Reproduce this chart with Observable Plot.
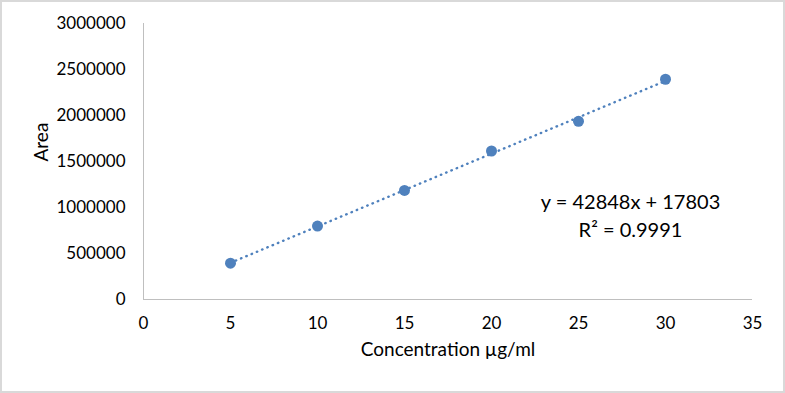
<!DOCTYPE html>
<html><head><meta charset="utf-8">
<script src="https://cdn.jsdelivr.net/npm/d3@7"></script>
<script src="https://cdn.jsdelivr.net/npm/@observablehq/plot@0.6"></script>
<style>
body{margin:0;background:#fff}
#chart svg{display:block;outline:2px solid #d9d9d9;outline-offset:-2px;background:#fff}
</style>
</head><body><div id="chart"></div>
<script>
const concentration = [5, 10, 15, 20, 25, 30];
const area = [395000, 798000, 1186000, 1614000, 1937000, 2394000];
const xTicks = [0, 5, 10, 15, 20, 25, 30, 35];
const yTicks = [0, 500000, 1000000, 1500000, 2000000, 2500000, 3000000];
const equationLines = ["y = 42848x + 17803", "R² = 0.9991"];
const xLabel = "Concentration µg/ml";
const yLabel = "Area";

const points = concentration.map((c, i) => ({c, a: area[i]}));
const blue = "#4f81bd";

const chart = Plot.plot({
  width: 785,
  height: 393,
  marginLeft: 143,
  marginRight: 33,
  marginTop: 23,
  marginBottom: 94,
  style: {fontFamily: "Lato", fontSize: "17px", color: "#000", background: "#fff"},
  x: {domain: [0, 35]},
  y: {domain: [0, 3000000]},
  marks: [
    Plot.ruleX([0], {stroke: "#bfbfbf", strokeWidth: 1}),
    Plot.ruleY([0], {stroke: "#bfbfbf", strokeWidth: 1}),
    Plot.axisX({ticks: xTicks, tickSize: 0, tickPadding: 17, label: null, tickFormat: d3.format("d")}),
    Plot.axisY({ticks: yTicks, tickSize: 0, tickPadding: 18, label: null, tickFormat: d3.format("d")}),
    Plot.linearRegressionY(points, {x: "c", y: "a", ci: 0, stroke: blue, strokeWidth: 2.4, strokeLinecap: "round", strokeDasharray: "0.5,5.2"}),
    Plot.dot(points, {x: "c", y: "a", r: 5.5, fill: blue, stroke: "none"}),
    Plot.text([xLabel], {frameAnchor: "bottom", dy: 56, fontSize: 19}),
    Plot.text([yLabel], {frameAnchor: "left", dx: -102, rotate: -90, fontSize: 19}),
    Plot.text([equationLines.join("\n")], {frameAnchor: "top-left", dx: 487, dy: 166, textAnchor: "middle", lineHeight: 1.4, fontSize: 20})
  ]
});
document.getElementById("chart").append(chart);
</script>
</body></html>
